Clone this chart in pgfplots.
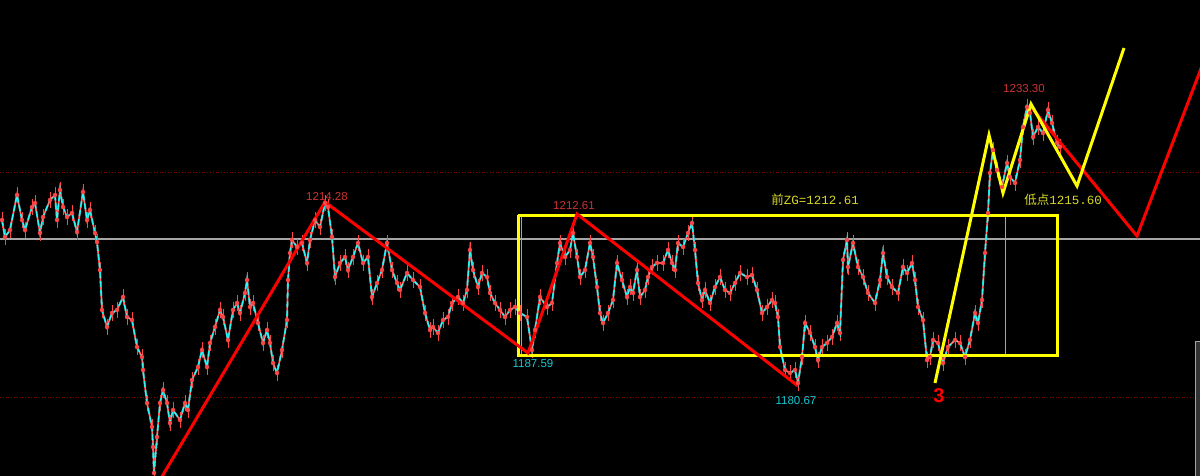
\documentclass[border=0pt]{standalone}
\usepackage{pgfplots}
\pgfplotsset{compat=1.18}
\usepackage{fontspec}
\setmainfont{Liberation Sans}
\newfontfamily\cjk{Noto Sans CJK SC}
\newfontfamily\mono{Liberation Mono}

\definecolor{bg}{RGB}{0,0,0}
\definecolor{candcyan}{RGB}{0,235,235}
\definecolor{candred}{RGB}{255,70,70}
\definecolor{zred}{RGB}{255,0,0}
\definecolor{zyel}{RGB}{255,255,0}
\definecolor{lblred}{RGB}{205,50,50}
\definecolor{lblcyan}{RGB}{20,200,210}
\definecolor{lblyel}{RGB}{215,215,40}
\definecolor{gridgray}{RGB}{165,165,165}
\definecolor{dotred}{RGB}{130,0,0}

% price path, in chart pixel coordinates (x right, y down)
\pgfplotstableread{
x y
2 220
5 237
10 230
17 195
22 220
25 230
32 207
35 203
40 233
43 217
50 200
55 195
57 220
60 190
63 207
67 217
72 213
77 232
83 192
87 220
90 210
95 233
97 242
100 270
102 310
107 327
112 313
117 310
123 297
127 317
132 320
137 347
142 357
143 370
147 403
152 427
153 447
154 473
157 437
160 403
163 390
167 403
170 423
173 410
180 420
185 403
188 410
192 380
198 367
202 350
207 367
210 343
215 327
220 310
223 317
228 340
233 310
237 303
240 313
245 293
247 280
250 307
253 303
258 323
263 343
267 330
270 343
273 363
277 373
282 350
287 320
288 280
290 253
292 240
297 247
302 243
307 263
310 240
315 220
320 227
325 203
328 207
332 237
335 277
340 263
345 257
348 270
353 257
358 243
363 263
368 257
372 297
377 283
382 270
387 243
392 270
397 283
400 290
407 273
413 280
420 287
425 313
430 330
433 327
438 333
443 320
448 317
452 303
458 297
463 303
467 290
470 250
473 270
478 287
482 273
487 277
490 293
495 303
500 310
505 317
510 310
515 307
520 313
527 317
532 350
535 330
540 297
547 307
552 303
557 263
560 243
565 257
570 250
573 233
577 257
580 277
585 270
590 243
593 257
597 287
600 313
603 323
608 313
613 300
617 263
622 280
627 297
630 287
633 293
637 270
640 297
645 290
648 277
652 267
657 263
663 263
668 250
672 263
675 270
678 243
683 247
688 233
692 223
695 250
698 283
702 300
705 290
710 303
715 287
720 277
725 290
730 293
735 283
740 273
747 277
752 275
757 290
762 313
767 307
772 300
775 303
778 317
780 347
785 370
790 373
795 370
798 383
802 357
805 323
810 333
815 347
818 360
822 347
827 343
832 337
837 323
840 333
843 260
847 240
848 267
853 243
858 267
863 277
868 293
875 303
880 280
883 253
887 277
892 287
898 293
903 267
907 273
912 263
915 280
918 307
923 320
927 360
930 357
933 340
938 343
943 363
948 347
955 340
960 343
965 357
970 340
975 313
978 323
982 300
985 253
988 213
990 173
993 150
997 170
1002 187
1007 163
1010 177
1015 183
1020 160
1023 127
1027 107
1030 113
1033 137
1038 127
1043 133
1048 110
1052 123
1057 143
1060 147
}\price

\begin{document}
\begin{tikzpicture}
\begin{axis}[
    scale only axis,
    width=1200pt, height=476pt,
    xmin=0, xmax=1200, ymin=0, ymax=476,
    y dir=reverse,
    axis line style={draw=none},
    xtick=\empty, ytick=\empty,
    axis background/.style={fill=bg},
    clip=true,
]
% reference lines
\addplot[gridgray, line width=1.5pt] coordinates {(0,239) (1200,239)};
\addplot[dotred, line width=0.8pt, dotted] coordinates {(0,172) (1200,172)};
\addplot[dotred, line width=0.8pt, dotted] coordinates {(0,397) (1200,397)};

% price: red wicks, red body line, cyan dashed on top
\addplot[candred, only marks, mark=none,
    error bars/.cd, y dir=both, y fixed=8,
    error bar style={candred, line width=0.7pt}, error mark=none] table {\price};
\addplot[candred, line width=1.8pt, mark=none] table {\price};
\addplot[candcyan, line width=1.8pt, mark=none, dash pattern=on 6pt off 3pt] table {\price};
\addplot[white, opacity=0.45, line width=0.4pt, mark=none] table {\price};

% central box
\addplot[gridgray, line width=1pt] coordinates {(521,215) (521,355)};
\addplot[gridgray, line width=1pt] coordinates {(1005,215) (1005,355)};
\addplot[zyel, line width=3pt, line join=miter] coordinates {(518,215) (1057,215) (1057,355) (518,355) (518,215)};

% red strokes
\addplot[zred, line width=3pt, line join=miter] coordinates {(154,490) (325,202) (528,353) (577,214) (798,386)};
\addplot[zred, line width=3pt, line join=miter] coordinates {(1031,107) (1137,236) (1210,45)};

% yellow strokes
\addplot[zyel, line width=3pt, line join=miter] coordinates {(935,383) (989,135) (1003,193) (1031,104) (1077,186) (1124,48)};

% scrollbar edge
\draw[gridgray, fill=black!80] (axis cs:1195,341) rectangle (axis cs:1200,476);

% labels
\node[lblred, font=\fontsize{11.5}{13}\selectfont, inner sep=0pt] at (axis cs:327,197) {1214.28};
\node[lblred, font=\fontsize{11.5}{13}\selectfont, inner sep=0pt] at (axis cs:574,206) {1212.61};
\node[lblred, font=\fontsize{11.5}{13}\selectfont, inner sep=0pt] at (axis cs:1024,89) {1233.30};
\node[lblcyan, font=\fontsize{11.5}{13}\selectfont, inner sep=0pt] at (axis cs:533,364) {1187.59};
\node[lblcyan, font=\fontsize{11.5}{13}\selectfont, inner sep=0pt] at (axis cs:796,401) {1180.67};
\node[lblyel, font=\fontsize{12.5}{14}\selectfont, inner sep=0pt] at (axis cs:815,200) {{\cjk 前}{\mono ZG=1212.61}};
\node[lblyel, font=\fontsize{12.5}{14}\selectfont, inner sep=0pt] at (axis cs:1063,200) {{\cjk 低点}{\mono 1215.60}};
\node[zred, font=\fontsize{20}{22}\selectfont\bfseries, inner sep=0pt] at (axis cs:939,396) {3};
\end{axis}
\end{tikzpicture}
\end{document}
